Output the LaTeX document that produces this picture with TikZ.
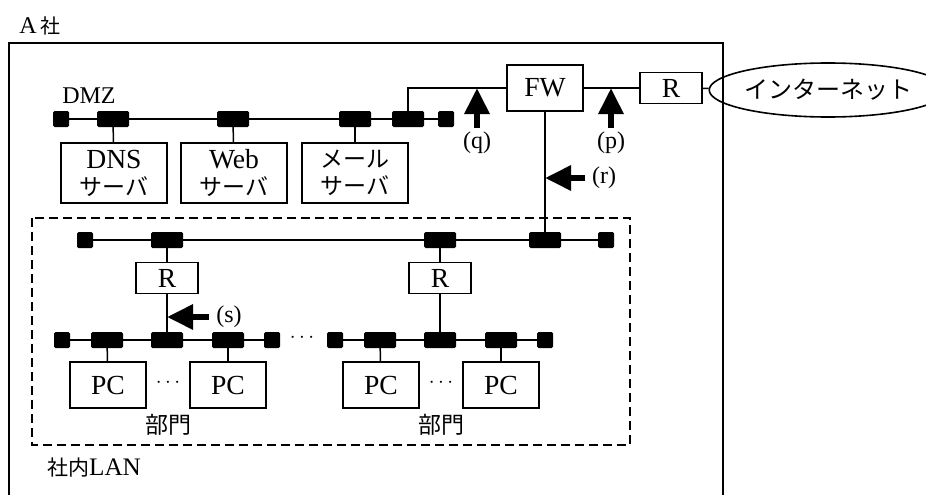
\documentclass[tikz,border=0pt]{standalone}
\usepackage{fontspec}
\setmainfont{Liberation Serif}[Scale=1.2]
\newfontfamily\jp{Noto Sans CJK JP}
\usepackage{tikz}
\usetikzlibrary{positioning,arrows.meta,shapes.geometric}

\begin{document}
\begin{tikzpicture}[
    x=1pt, y=-1pt,
    box/.style={draw, line width=1.4pt, align=center, inner sep=1pt,
                font=\fontsize{23}{27}\selectfont},
    srv/.style={box, minimum width=106pt, minimum height=60pt},
    pc/.style={box, minimum width=76pt, minimum height=46pt},
    rtr/.style={box, minimum width=62pt, minimum height=31pt},
    term/.style={fill, rounded corners=1.5pt, minimum width=16pt, minimum height=16pt, inner sep=0pt},
    conn/.style={term, minimum width=32pt},
    bus/.style={line width=2.6pt},
    link/.style={line width=1.5pt},
    probe/.style={line width=6pt, -{Triangle[length=26pt,width=24pt]}},
    lbl/.style={font=\fontsize{20}{22}\selectfont, inner sep=1pt},
  ]
  \useasboundingbox (0,0) rectangle (926,495);

  % company frame, open at the bottom
  \draw[line width=1.5pt] (9,495) |- (723,43) -- (723,495);
  \node[lbl] (co) at (40,26) {A\,{\jp 社}};
  \draw[line width=1.5pt, dash pattern=on 9pt off 5pt] (32,218) rectangle (630,445);
  \node[lbl, font=\fontsize{21}{24}\selectfont] (lan) at (94,468) {{\jp 社内}LAN};

  % DMZ segment
  \node[lbl] (dmz) at (89,96) {DMZ};
  \node[term] (dl)  at (61,119)  {};
  \node[conn] (dc1) at (113,119) {};
  \node[conn] (dc2) at (233,119) {};
  \node[conn] (dc3) at (355,119) {};
  \node[conn] (dc4) at (408,119) {};
  \node[term] (dr)  at (446,119) {};
  \draw[bus] (dl) -- (dr);
  \node[srv] (dns)  at (114,173) {DNS\\{\jp サーバ}};
  \node[srv] (web)  at (234,173) {Web\\{\jp サーバ}};
  \node[srv] (mail) at (355,173) {{\jp メール}\\{\jp サーバ}};
  \draw[link] (dc1) -- (dns);
  \draw[link] (dc2) -- (web);
  \draw[link] (dc3) -- (mail);

  % perimeter
  \node[box, minimum width=76pt, minimum height=46pt] (fw) at (545,88) {FW};
  \node[rtr] (rt) at (671,88) {R};
  \node[draw, ellipse, line width=1.6pt, minimum width=183pt, minimum height=54pt, inner sep=0pt,
        font=\fontsize{24}{26}\selectfont] (inet) at (828,90) {\jp インターネット};
  \draw[link] (dc4.north) |- (fw.west);
  \draw[link] (fw) -- (rt);
  \draw[link] (rt) -- (inet);

  % internal LAN backbone
  \node[term] (ll) at (85,240)  {};
  \node[conn] (t1) at (167,240) {};
  \node[conn] (t2) at (440,240) {};
  \node[conn] (lc) at (545,240) {};
  \node[term] (lr) at (606,240) {};
  \draw[bus] (ll) -- (lr);
  \draw[link] (fw) -- (lc);

  % one department per offset
  \foreach \i/\o in {1/0, 2/273} {
    \node[rtr] (r\i) at (167+\o,278) {R};
    \node[term] (a\i) at (62+\o,340)  {};
    \node[conn] (b\i) at (107+\o,340) {};
    \node[conn] (c\i) at (167+\o,340) {};
    \node[conn] (d\i) at (228+\o,340) {};
    \node[term] (e\i) at (272+\o,340) {};
    \draw[bus] (a\i) -- (e\i);
    \node[pc] (p\i) at (108+\o,385) {PC};
    \node[pc] (q\i) at (228+\o,385) {PC};
    \node[lbl] (x\i) at (168+\o,383) {$\cdots$};
    \node[box, draw=none, inner sep=0pt] (g\i) at (168+\o,425) {\jp 部門};
    \draw[link] (t\i) -- (r\i);
    \draw[link] (r\i) -- (c\i);
    \draw[link] (b\i) -- (p\i);
    \draw[link] (d\i) -- (q\i);
  }
  \node[lbl] (more) at (302,338) {$\cdots$};

  % observation points
  \node[lbl] (ql) at (477,143) {(q)};
  \node[lbl] (pl) at (611,143) {(p)};
  \node[lbl] (rl) at (604,178) {(r)};
  \node[lbl] (sl) at (229,317) {(s)};
  \coordinate (qtip) at (477,88);
  \coordinate (ptip) at (611,88);
  \coordinate (rtip) at (545,178);
  \coordinate (stip) at (167,317);
  \draw[probe, shorten <=3pt] (ql.north) -- (qtip);
  \draw[probe, shorten <=3pt] (pl.north) -- (ptip);
  \draw[probe, shorten <=6pt] (rl.west) -- (rtip);
  \draw[probe, shorten <=6pt] (sl.west) -- (stip);
\end{tikzpicture}
\end{document}
